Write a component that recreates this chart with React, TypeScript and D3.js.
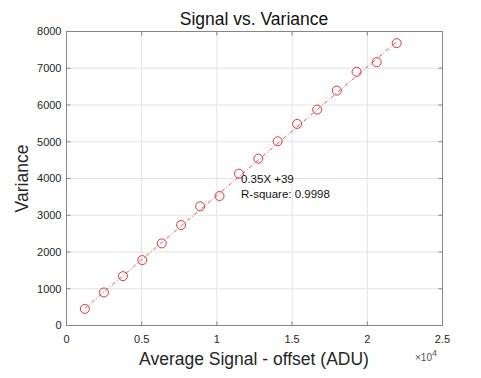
import React from "react";
import * as d3 from "d3";

const signal = [1220, 2487, 3753, 5040, 6333, 7620, 8887, 10173, 11467, 12753, 14040, 15333, 16667, 17973, 19287, 20620, 21953];
const variance = [452, 899, 1343, 1779, 2234, 2733, 3243, 3523, 4131, 4540, 5014, 5485, 5875, 6392, 6902, 7166, 7684];
const slope = 0.35;
const intercept = 39;
const xTicks = [0, 5000, 10000, 15000, 20000, 25000];
const xTickLabels = ["0", "0.5", "1", "1.5", "2", "2.5"];
const yTicks = [0, 1000, 2000, 3000, 4000, 5000, 6000, 7000, 8000];

const W = 481, H = 378;
const L = 66.5, R = 442.5, T = 31.5, B = 325.5;
const font = "Helvetica, Arial, 'Liberation Sans', sans-serif";

export default function App() {
  const x = d3.scaleLinear().domain([0, 25000]).range([L, R]);
  const y = d3.scaleLinear().domain([0, 8000]).range([B, T]);
  const xs = d3.extent(signal) as [number, number];
  const line = d3.line<number>().x((d) => x(d)).y((d) => y(slope * d + intercept));
  const tickLen = 4;
  const axisColor = "#868686";
  const textColor = "#262626";
  return (
    <svg width={W} height={H} style={{ position: "absolute", left: 0, top: 0 }} fontFamily={font}>
      <rect x={0} y={0} width={W} height={H} fill="#fff" />
      {xTicks.map((t) => (
        <line key={"gx" + t} x1={x(t)} x2={x(t)} y1={T} y2={B} stroke="#e3e3e3" strokeWidth={1} />
      ))}
      {yTicks.map((t) => (
        <line key={"gy" + t} x1={L} x2={R} y1={y(t)} y2={y(t)} stroke="#e3e3e3" strokeWidth={1} />
      ))}
      <rect x={L} y={T} width={R - L} height={B - T} fill="none" stroke={axisColor} strokeWidth={1} />
      {xTicks.map((t) => (
        <g key={"tx" + t}>
          <line x1={x(t)} x2={x(t)} y1={B} y2={B - tickLen} stroke={axisColor} />
          <line x1={x(t)} x2={x(t)} y1={T} y2={T + tickLen} stroke={axisColor} />
        </g>
      ))}
      {yTicks.map((t) => (
        <g key={"ty" + t}>
          <line x1={L} x2={L + tickLen} y1={y(t)} y2={y(t)} stroke={axisColor} />
          <line x1={R} x2={R - tickLen} y1={y(t)} y2={y(t)} stroke={axisColor} />
        </g>
      ))}
      {xTicks.map((t, i) => (
        <text key={"lx" + t} x={x(t)} y={B + 17} textAnchor="middle" fontSize={11} fill={textColor}>
          {xTickLabels[i]}
        </text>
      ))}
      {yTicks.map((t) => (
        <text key={"ly" + t} x={L - 5} y={y(t)} dy="0.35em" textAnchor="end" fontSize={11} fill={textColor}>
          {t}
        </text>
      ))}
      <path d={line(xs) || ""} fill="none" stroke="#e8323c" strokeWidth={0.8} strokeDasharray="4 2 1 2" />
      {signal.map((s, i) => (
        <circle key={"p" + i} cx={x(s)} cy={y(variance[i])} r={4.5} fill="none" stroke="#e8323c" strokeWidth={1} />
      ))}
      <text x={241} y={183} fontSize={11.5} fill="#111">0.35X +39</text>
      <text x={241} y={198} fontSize={11.5} fill="#111">R-square: 0.9998</text>
      <text x={254} y={25} textAnchor="middle" fontSize={17.5} fill="#111">Signal vs. Variance</text>
      <text x={254} y={365} textAnchor="middle" fontSize={17.5} fill={textColor}>Average Signal - offset (ADU)</text>
      <text transform={`translate(28,${(T + B) / 2}) rotate(-90)`} textAnchor="middle" fontSize={17.5} fill={textColor}>Variance</text>
      <text x={415} y={361} fontSize={10} fill="#555">
        ×10<tspan dy={-5} fontSize={9}>4</tspan>
      </text>
    </svg>
  );
}
